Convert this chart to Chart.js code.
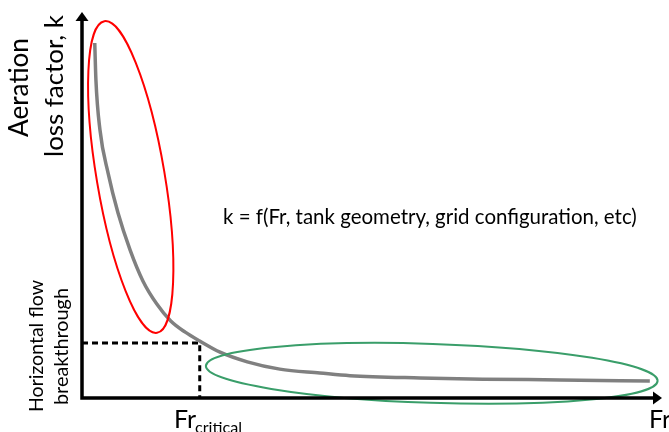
<!DOCTYPE html>
<html>
<head>
<meta charset="utf-8">
<script src="https://cdn.jsdelivr.net/npm/chart.js@4"></script>
<style>
  html, body { margin: 0; padding: 0; background: #fff; }
  #wrap { width: 669px; height: 432px; }
</style>
</head>
<body>
<div id="wrap"><canvas id="chart" width="669" height="432"></canvas></div>
<script>
// curve (Fr on x, k on y, both 0..10 arbitrary units)
const frValues = [0.22, 0.24, 0.31, 0.45, 0.62, 0.83, 1.05, 1.29, 1.53, 1.78, 2.03, 2.38, 2.85, 3.41, 4.10, 4.62, 5.83, 6.91, 8.24, 9.79];
const kValues = [9.22, 8.26, 6.96, 5.84, 4.81, 3.84, 3.04, 2.44, 2.00, 1.71, 1.48, 1.19, 0.94, 0.75, 0.65, 0.58, 0.52, 0.49, 0.47, 0.44];

// critical point (dashed guide)
const critFr = 2.03;
const critK = 1.43;

// ellipse centres in data units
const ellipseFr = [0.84, 6.03];
const ellipseK = [5.74, 0.64];

const FONT = 'Lato, "Open Sans", sans-serif';

// shrink/grow font so the text spans the wanted width
function fitFont(ctx, text, width) {
  ctx.font = '20px ' + FONT;
  const w = ctx.measureText(text).width;
  return 20 * width / w;
}

function rotatedText(ctx, text, baseX, midY, width) {
  const size = fitFont(ctx, text, width);
  ctx.save();
  ctx.font = size + 'px ' + FONT;
  ctx.translate(baseX, midY);
  ctx.rotate(-Math.PI / 2);
  ctx.textAlign = 'center';
  ctx.textBaseline = 'alphabetic';
  ctx.fillText(text, 0, 0);
  ctx.restore();
}

const sketchPlugin = {
  id: 'sketch',
  afterDatasetsDraw(chart) {
    const ctx = chart.ctx;
    const xs = chart.scales.x, ys = chart.scales.y;
    const x0 = xs.getPixelForValue(0);
    const y0 = ys.getPixelForValue(0);
    const top = chart.chartArea.top;
    const right = chart.chartArea.right;

    // ellipses
    const ell = [
      { rx: 34, ry: 158, rot: -9.6, color: '#ff0000' },
      { rx: 226, ry: 29.5, rot: 1.9, color: '#3a9e6a' }
    ];
    ell.forEach((e, i) => {
      ctx.save();
      ctx.beginPath();
      ctx.ellipse(xs.getPixelForValue(ellipseFr[i]), ys.getPixelForValue(ellipseK[i]),
        e.rx, e.ry, e.rot * Math.PI / 180, 0, Math.PI * 2);
      ctx.strokeStyle = e.color;
      ctx.lineWidth = 2;
      ctx.stroke();
      ctx.restore();
    });

    // axes with arrows
    ctx.save();
    ctx.strokeStyle = '#000';
    ctx.fillStyle = '#000';
    ctx.lineWidth = 3.5;
    ctx.beginPath();
    ctx.moveTo(x0, y0 + 1.75);
    ctx.lineTo(x0, top + 7);
    ctx.moveTo(x0 - 1.75, y0);
    ctx.lineTo(right - 7, y0);
    ctx.stroke();
    ctx.beginPath();
    ctx.moveTo(x0, top - 1);
    ctx.lineTo(x0 - 6.5, top + 8);
    ctx.lineTo(x0 + 6.5, top + 8);
    ctx.closePath();
    ctx.fill();
    ctx.beginPath();
    ctx.moveTo(right, y0);
    ctx.lineTo(right - 9, y0 - 6.5);
    ctx.lineTo(right - 9, y0 + 6.5);
    ctx.closePath();
    ctx.fill();
    ctx.restore();

    // texts
    ctx.save();
    ctx.fillStyle = '#000';
    rotatedText(ctx, 'Aeration', 28, 87.5, 99);
    rotatedText(ctx, 'loss factor, k', 63, 86, 142);
    rotatedText(ctx, 'Horizontal flow', 43, 346, 132);
    rotatedText(ctx, 'breakthrough', 68, 346.5, 117);

    const formula = 'k = f(Fr, tank geometry, grid configuration, etc)';
    ctx.font = fitFont(ctx, formula, 414) + 'px ' + FONT;
    ctx.textAlign = 'left';
    ctx.textBaseline = 'alphabetic';
    ctx.fillText(formula, 223, 224);

    ctx.font = '25px ' + FONT;
    ctx.fillText('Fr', 174, 428);
    ctx.fillText('Fr', 649, 428);
    ctx.font = fitFont(ctx, 'critical', 47) + 'px ' + FONT;
    ctx.fillText('critical', 195, 433);
    ctx.restore();
  }
};

new Chart(document.getElementById('chart'), {
  type: 'line',
  data: {
    datasets: [
      {
        label: 'k',
        data: frValues.map((f, i) => ({ x: f, y: kValues[i] })),
        borderColor: '#808080',
        borderWidth: 3.5,
        pointRadius: 0,
        cubicInterpolationMode: 'monotone',
        fill: false
      },
      {
        label: 'critical',
        data: [{ x: 0, y: critK }, { x: critFr, y: critK }, { x: critFr, y: 0 }],
        borderColor: '#000',
        borderWidth: 3,
        borderDash: [6, 4],
        pointRadius: 0,
        tension: 0,
        fill: false
      }
    ]
  },
  options: {
    responsive: false,
    animation: false,
    devicePixelRatio: 1,
    layout: { padding: { left: 82, top: 13, right: 7, bottom: 34 } },
    plugins: { legend: { display: false }, tooltip: { enabled: false } },
    scales: {
      x: { type: 'linear', min: 0, max: 10, display: false },
      y: { type: 'linear', min: 0, max: 10, display: false }
    }
  },
  plugins: [sketchPlugin]
});
</script>
</body>
</html>
